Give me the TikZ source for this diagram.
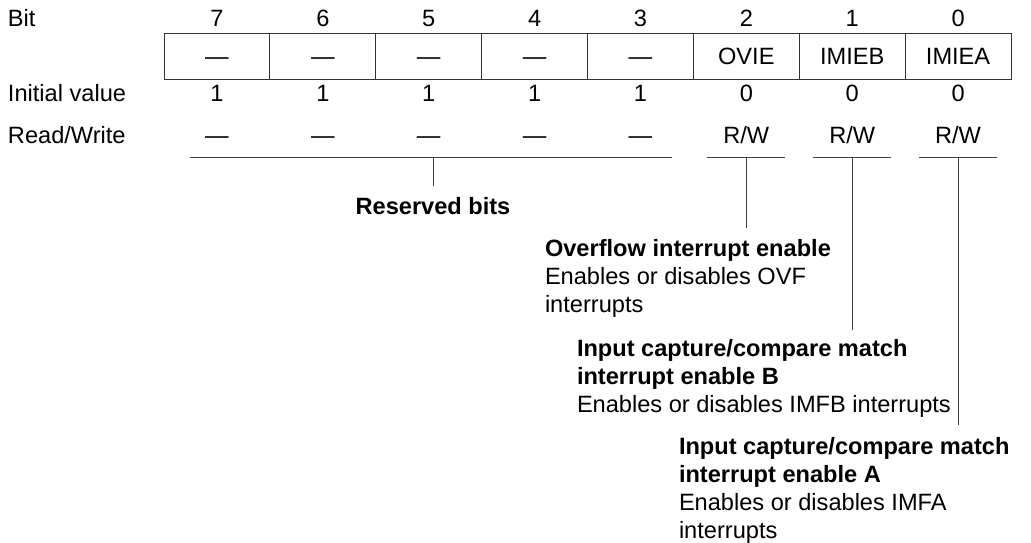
\documentclass[tikz,border=0pt]{standalone}
\usepackage{fontspec}
\setmainfont{Liberation Sans}
\newcommand\rwtext{R/W}
\begin{document}
\begin{tikzpicture}[x=1pt,y=-1pt,
  txt/.style={font=\fontsize{23.6}{28}\selectfont, inner sep=0pt, outer sep=0pt},
  btxt/.style={font=\fontsize{23.6}{28}\selectfont\bfseries, inner sep=0pt, outer sep=0pt},
  rowtxt/.style={txt, anchor=base},
  lbl/.style={txt, anchor=base west},
  cellbox/.style={txt, draw=black!80, line width=1pt, minimum width=105.875pt, minimum height=46pt, text height=16.8pt, text depth=0pt},
  conn/.style={draw=black!75, line width=1pt},
  desc/.style={txt, anchor=north west, align=left}
]
\useasboundingbox (0,0) rectangle (1031,542);
\node[lbl] (lbit) at (8,26) {Bit};
\node[lbl] (linit) at (8,101) {Initial value};
\node[lbl] (lrw) at (8,143) {Read/Write};
\foreach \k/\b/\c/\v/\r in {0/7/—/1/—, 1/6/—/1/—, 2/5/—/1/—, 3/4/—/1/—, 4/3/—/1/—, 5/2/OVIE/0/\rwtext, 6/1/IMIEB/0/\rwtext, 7/0/IMIEA/0/\rwtext}{
  \pgfmathsetmacro\xx{216.94+\k*105.875}
  \node[rowtxt] (bit\b) at (\xx,26) {\b};
  \node[cellbox] (cell\b) at (\xx,56) {\c};
  \node[rowtxt] (init\b) at (\xx,101) {\v};
  \node[rowtxt] (rw\b) at (\xx,143) {\r};
}
% reserved bits
\coordinate (ra) at (190,157);
\coordinate (rb) at (672,157);
\coordinate (rm) at (433,157);
\coordinate (re) at (433,186);
\draw[conn] (ra) -- (rb);
\draw[conn] (rm) -- (re);
\node[btxt, anchor=base] (resv) at (433,214) {Reserved bits};
% OVIE
\coordinate (a2) at (707.3,157);
\coordinate (b2) at (785.3,157);
\coordinate (m2) at (746.3,157);
\coordinate (e2) at (746.3,228);
\draw[conn] (a2) -- (b2);
\draw[conn] (m2) -- (e2);
\node[desc] (d2) at (545,239.8) {\textbf{Overflow interrupt enable}\\Enables or disables OVF\\interrupts};
% IMIEB
\coordinate (a1) at (813.2,157);
\coordinate (b1) at (891.2,157);
\coordinate (m1) at (852.2,157);
\coordinate (e1) at (852.2,330);
\draw[conn] (a1) -- (b1);
\draw[conn] (m1) -- (e1);
\node[desc] (d1) at (577,339.8) {\textbf{Input capture/compare match}\\\textbf{interrupt enable B}\\Enables or disables IMFB interrupts};
% IMIEA
\coordinate (a0) at (919.1,157);
\coordinate (b0) at (997.1,157);
\coordinate (m0) at (958.1,157);
\coordinate (e0) at (958.1,425);
\draw[conn] (a0) -- (b0);
\draw[conn] (m0) -- (e0);
\node[desc] (d0) at (679,437.8) {\textbf{Input capture/compare match}\\\textbf{interrupt enable A}\\Enables or disables IMFA\\interrupts};
\end{tikzpicture}
\end{document}
